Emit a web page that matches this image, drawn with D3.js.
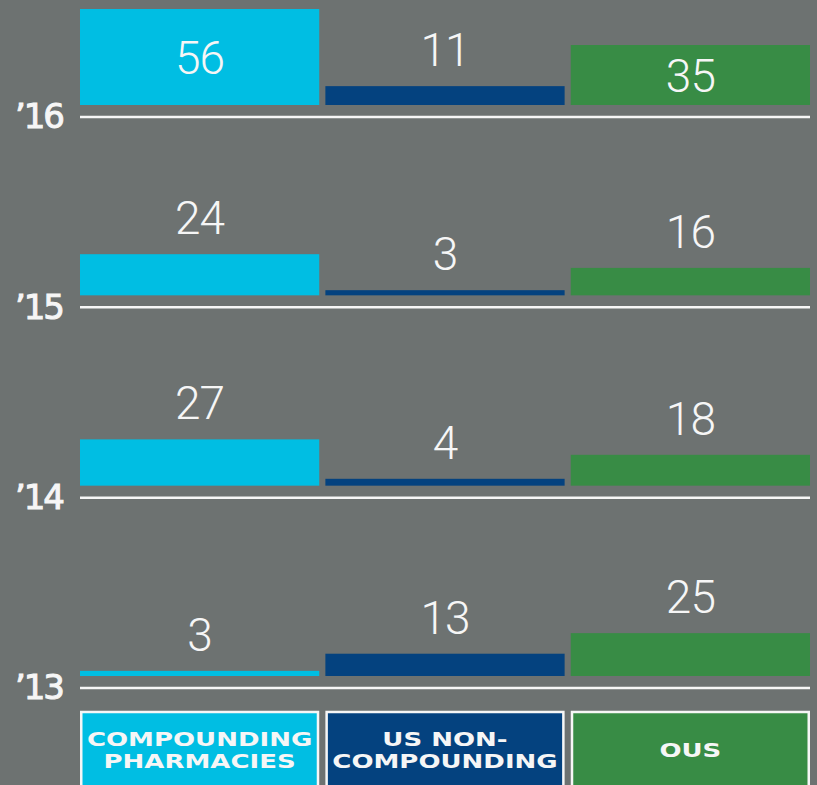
<!DOCTYPE html>
<html>
<head>
<meta charset="utf-8">
<script src="https://cdn.jsdelivr.net/npm/d3@7"></script>
<style>
  html, body { margin: 0; padding: 0; background: #6d7271; }
  svg { display: block; }
</style>
</head>
<body>
<script>
// Years shown down the left side, newest first
const years = ["\u201916", "\u201915", "\u201914", "\u201913"];
// Series (one per column)
const categories = ["Compounding pharmacies", "US non-compounding", "OUS"];
const legendLines = [["COMPOUNDING", "PHARMACIES"], ["US NON-", "COMPOUNDING"], ["OUS"]];
// Counts per year, in the order of `years`
const compounding = [56, 24, 27, 3];
const usNonCompounding = [11, 3, 4, 13];
const ous = [35, 16, 18, 25];

const seriesValues = [compounding, usNonCompounding, ous];
const colors = ["#00bee3", "#04427f", "#388c45"];

const W = 817, H = 785;
const ink = "#f6f6f6";

const svg = d3.select("body").append("svg")
  .attr("width", W).attr("height", H);

svg.append("rect").attr("width", W).attr("height", H).attr("fill", "#6d7271");

const x = d3.scaleBand().domain(categories).range([80, 810]).paddingInner(0.025);
const row = d3.scalePoint().domain(years).range([117, 688]);
const h = d3.scaleLinear().domain([0, 56]).range([0, 96]);
const lift = 12; // gap between bar bottoms and the year rule

// Flatten into one record per bar
const bars = [];
years.forEach((yr, i) => {
  categories.forEach((c, j) => {
    bars.push({ year: yr, cat: c, value: seriesValues[j][i], color: colors[j] });
  });
});

// Year rules
svg.append("g").selectAll("line").data(years).join("line")
  .attr("x1", 80).attr("x2", 810)
  .attr("y1", d => row(d)).attr("y2", d => row(d))
  .attr("stroke", ink).attr("stroke-width", 2.5);

// Bars
svg.append("g").selectAll("rect").data(bars).join("rect")
  .attr("x", d => x(d.cat))
  .attr("width", x.bandwidth())
  .attr("y", d => row(d.year) - lift - h(d.value))
  .attr("height", d => h(d.value))
  .attr("fill", d => d.color);

// Value labels: inside tall bars, above short ones
const insideMin = 50;
svg.append("g").selectAll("text").data(bars).join("text")
  .attr("x", d => x(d.cat) + x.bandwidth() / 2)
  .attr("y", d => {
    const top = row(d.year) - lift - h(d.value);
    return h(d.value) > insideMin ? top + h(d.value) / 2 + 17 : top - 20;
  })
  .attr("text-anchor", "middle")
  .attr("fill", ink)
  .style("font-family", "Roboto, 'Liberation Sans', sans-serif")
  .style("font-weight", 300)
  .style("font-size", "46px")
  .style("letter-spacing", "-1px")
  .text(d => d.value);

// Year axis
const yAxis = svg.append("g")
  .attr("transform", "translate(63,0)")
  .call(d3.axisLeft(row).tickSize(0).tickPadding(0));
yAxis.select(".domain").remove();
yAxis.selectAll("text")
  .attr("fill", ink)
  .attr("stroke", ink)
  .attr("stroke-width", 1)
  .style("font-family", "'DejaVu Sans', sans-serif")
  .style("font-size", "34px")
  .style("letter-spacing", "-2px");

// Legend boxes under the chart
const legend = svg.append("g").selectAll("g").data(categories).join("g");
legend.append("rect")
  .attr("x", d => x(d) + 1.25)
  .attr("y", 712)
  .attr("width", x.bandwidth() - 2.5)
  .attr("height", 100)
  .attr("fill", (d, i) => colors[i])
  .attr("stroke", ink)
  .attr("stroke-width", 2.5);

legend.each(function (d, i) {
  const lines = legendLines[i];
  const cx = x(d) + x.bandwidth() / 2;
  const base = lines.length === 1 ? 757 : 746;
  const g = d3.select(this).append("g")
    .attr("transform", `translate(${cx},0) scale(1.3,1)`);
  g.selectAll("text").data(lines).join("text")
    .attr("x", 0)
    .attr("y", (t, k) => base + k * 22)
    .attr("text-anchor", "middle")
    .attr("fill", ink)
    .style("font-family", "'DejaVu Sans', sans-serif")
    .style("font-weight", "bold")
    .style("font-size", "20px")
    .text(t => t);
});
</script>
</body>
</html>
